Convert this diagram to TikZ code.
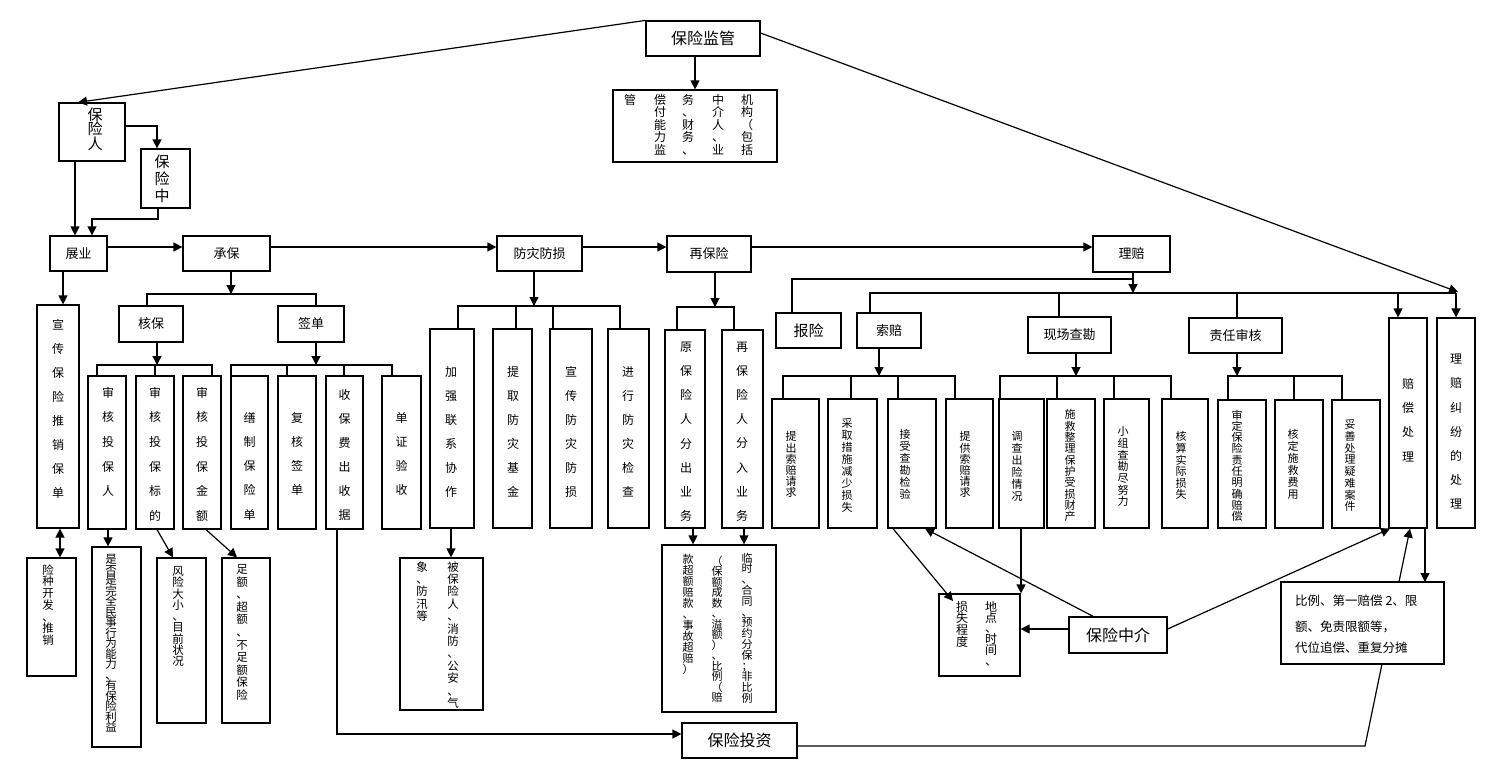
\documentclass[tikz,border=0pt]{standalone}
\usepackage{fontspec}
\setmainfont{Noto Sans CJK SC}
\usetikzlibrary{arrows.meta,calc}
\def\vtl#1{\ifx\relax#1\else\hbox to 1.1em{\hss#1\hss}\expandafter\vtl\fi}
\newcommand\vt[2]{\vbox{\baselineskip=#1\lineskiplimit=-100pt\lineskip=0pt\relax\vtl#2\relax}}
\tikzset{
 bx/.style={draw, fill=white, line width=1.2pt, inner sep=0pt},
 arr/.style={line width=1.2pt, -{Triangle[length=9pt,width=9pt]}},
 arrb/.style={line width=1.2pt, {Triangle[length=9pt,width=9pt]}-{Triangle[length=9pt,width=9pt]}},
 ln/.style={line width=1.2pt},
 txt/.style={inner sep=0pt, anchor=north},
}
\newcommand\bx[5]{\node[bx, minimum width={(#4-#2)*1pt}, minimum height={(#5-#3)*1pt}] (#1) at ({(#2+#4)/2},{(#3+#5)/2}) {};}
\newcommand\bxt[7]{\node[bx, font=\fontsize{#6}{#6}\selectfont, minimum width={(#4-#2)*1pt}, minimum height={(#5-#3)*1pt}] (#1) at ({(#2+#4)/2},{(#3+#5)/2}) {#7};}
\newcommand\vtx[6]{\node[txt, font=\fontsize{#4}{#4}\selectfont] (#1) at (#2,{#3-#4/2}) {\vt{#5pt}{#6}};}
\begin{document}
\begin{tikzpicture}[x=1pt,y=-1pt]
\useasboundingbox (0,0) rectangle (1503,769);
\fill[white] (0,0) rectangle (1503,769);
% boxes
\bxt{jg}{646}{21}{760}{56}{16}{保险监管}
\bx{jgd}{613}{90}{777}{162}
\bx{bxr}{59}{103}{125}{161}
\bx{bxz}{141}{149}{190}{208}
\bxt{zy}{50}{236}{107}{271}{13}{展业}
\bxt{cb}{183}{236}{270}{271}{13}{承保}
\bxt{ff}{497}{236}{582}{271}{13}{防灾防损}
\bxt{zb}{667}{236}{751}{272}{13}{再保险}
\bxt{lp}{1093}{236}{1170}{272}{13}{理赔}
\bx{xc}{37}{305}{79}{528}
\bx{xz}{27}{558}{76}{676}
\bxt{hb}{119}{306}{183}{342}{13}{核保}
\bxt{qd}{278}{306}{344}{342}{13}{签单}
\bx{h1}{88}{376}{126}{529}
\bx{h2}{136}{376}{174}{529}
\bx{h3}{183}{376}{221}{529}
\bx{q1}{231}{376}{268}{529}
\bx{q2}{278}{376}{316}{529}
\bx{q3}{326}{376}{363}{529}
\bx{q4}{382}{376}{421}{529}
\bx{d1}{92}{547}{141}{747}
\bx{d2}{157}{558}{206}{723}
\bx{d3}{222}{558}{270}{723}
\bx{f1}{430}{329}{474}{528}
\bx{f2}{493}{329}{532}{528}
\bx{f3}{550}{329}{592}{528}
\bx{f4}{608}{329}{649}{528}
\bx{fd}{400}{558}{483}{710}
\bx{z1}{665}{330}{705}{528}
\bx{z2}{722}{330}{763}{528}
\bx{zd}{662}{545}{776}{712}
\bxt{bxx}{776}{313}{841}{348}{15}{报险}
\bxt{sp}{857}{313}{921}{348}{13}{索赔}
\bxt{xk}{1028}{317}{1111}{353}{13}{现场查勘}
\bxt{zr}{1189}{318}{1282}{353}{13}{责任审核}
\bx{s1}{772}{399}{819}{528}
\bx{s2}{828}{399}{877}{528}
\bx{s3}{888}{399}{936}{528}
\bx{s4}{946}{399}{993}{528}
\bx{k1}{999}{399}{1044}{528}
\bx{k2}{1047}{399}{1095}{528}
\bx{k3}{1104}{399}{1149}{528}
\bx{k4}{1162}{399}{1208}{528}
\bx{r1}{1218}{400}{1266}{528}
\bx{r2}{1275}{400}{1323}{528}
\bx{r3}{1332}{400}{1380}{528}
\bx{pc}{1389}{318}{1427}{528}
\bx{jf}{1437}{318}{1475}{528}
\bx{dd}{939}{594}{1020}{676}
\bxt{zj}{1069}{617}{1167}{653}{16}{保险中介}
\bxt{tz}{682}{723}{797}{758}{16}{保险投资}
% texts
\vtx{t-jg1}{747}{100}{12}{12.5}{机构（包括}
\vtx{t-jg2}{718}{100}{12}{12.5}{中介人、业}
\vtx{t-jg3}{688}{100}{12}{12.5}{务、财务、}
\vtx{t-jg4}{660}{100}{12}{12.5}{偿付能力监}
\vtx{t-jg5}{630}{100}{12}{12.5}{管}
\vtx{t-bxr}{95}{115}{15}{14.5}{保险人}
\vtx{t-bxz}{162}{162}{15}{17}{保险中}
\vtx{t-xc}{58}{325}{12}{24}{宣传保险推销保单}
\vtx{t-xz}{48}{570}{11.5}{11.7}{险种开发、推销}
\vtx{t-h1}{108}{393}{12}{24.6}{审核投保人}
\vtx{t-h2}{155}{393}{12}{24.6}{审核投保标的}
\vtx{t-h3}{202}{393}{12}{24.6}{审核投保金额}
\vtx{t-q1}{249.5}{418}{12}{24.2}{缮制保险单}
\vtx{t-q2}{297}{418}{12}{24.2}{复核签单}
\vtx{t-q3}{344.5}{395}{12}{24}{收保费出收据}
\vtx{t-q4}{401.5}{418}{12}{24.2}{单证验收}
\vtx{t-d1}{111}{560}{11.5}{10.5}{是否是完全民事行为能力、有保险利益}
\vtx{t-d2}{178}{572}{11.5}{11.25}{风险大小、目前状况}
\vtx{t-d3}{242}{570}{11.5}{12.6}{足额、超额、不足额保险}
\vtx{t-f1}{451}{372}{12}{24}{加强联系协作}
\vtx{t-f2}{513}{372}{12}{24}{提取防灾基金}
\vtx{t-f3}{571}{372}{12}{24}{宣传防灾防损}
\vtx{t-f4}{628}{372}{12}{24}{进行防灾检查}
\vtx{t-fd1}{453}{567}{11.5}{12.4}{被保险人、消防、公安、气}
\vtx{t-fd2}{422}{567}{11.5}{12.4}{象、防汛等}
\vtx{t-z1}{686}{348}{12}{24.1}{原保险人分出业务}
\vtx{t-z2}{742}{348}{12}{24.1}{再保险人分入业务}
\vtx{t-zd1}{747}{558}{11}{10.8}{临时、合同、预约分保；非比例}
\vtx{t-zd2}{717}{561}{11}{10.5}{（保额成数、溢额）、比例（赔}
\vtx{t-zd3}{688}{560}{11}{11}{款超额赔款、事故超赔）}
\vtx{t-s1}{791}{437}{11}{11.2}{提出索赔请求}
\vtx{t-s2}{847}{424}{11}{11.9}{采取措施减少损失}
\vtx{t-s3}{905}{435}{11}{12}{接受查勘检验}
\vtx{t-s4}{965}{437}{11}{11.2}{提供索赔请求}
\vtx{t-k1}{1017}{437}{11}{12}{调查出险情况}
\vtx{t-k2}{1070}{415}{11}{11.3}{施救整理保护受损财产}
\vtx{t-k3}{1123}{432}{11}{11.7}{小组查勘尽努力}
\vtx{t-k4}{1181}{437}{11}{11.6}{核算实际损失}
\vtx{t-r1}{1237}{415}{11}{11.3}{审定保险责任明确赔偿}
\vtx{t-r2}{1293}{435}{11}{12}{核定施救费用}
\vtx{t-r3}{1350}{425}{11}{11.7}{妥善处理疑难案件}
\vtx{t-pc}{1408}{384}{12}{24.3}{赔偿处理}
\vtx{t-jf}{1456}{360}{12}{24.2}{理赔纠纷的处理}
\vtx{t-dd1}{991}{607}{12}{10.8}{地点、时间、}
\vtx{t-dd2}{962}{607}{12}{11.7}{损失程度}
% connectors
\draw[arr] (jg.north west) -- (bxr.north -| 78,0);
\draw[arr] (jg.south -| jgd.north) -- (jgd.north);
\draw[arr] (jg.east |- 0,33) -- (1458,292);
\draw[arr] (bxr.east |- 0,126) -| (bxz.north -| 157,0);
\draw[arr] (bxr.south -| 75,0) -- (zy.north -| 75,0);
\draw[arr] (bxz.south -| 158,0) -- (158,219) -- (92,219) -- (zy.north -| 92,0);
\draw[arr] (zy.east |- 0,247) -- (cb.west |- 0,247);
\draw[arr] (cb.east |- 0,247) -- (ff.west |- 0,247);
\draw[arr] (ff.east |- 0,247) -- (zb.west |- 0,247);
\draw[arr] (zb.east |- 0,247) -- (lp.west |- 0,247);
\draw[arr] (zy.south -| 63,0) -- (xc.north -| 63,0);
\draw[arrb] (xc.south -| 60,0) -- (xz.north -| 60,0);
% chengbao tree
\draw[arr] (cb.south -| 231,0) -- (231,294);
\draw[ln] (hb.north -| 147,0) |- (316,294) -- (qd.north -| 316,0);
\draw[arr] (hb.south -| 157,0) -- (157,365);
\draw[ln] (h1.north -| 97,0) |- (212,365) -- (h3.north -| 212,0);
\draw[ln] (155,365) -- (h2.north -| 155,0);
\draw[arr] (qd.south -| 316,0) -- (316,365);
\draw[ln] (q1.north -| 231,0) |- (392,365) -- (q4.north -| 392,0);
\draw[ln] (287,365) -- (q2.north -| 287,0);
\draw[ln] (344,365) -- (q3.north -| 344,0);
\draw[arr] (h1.south -| 108,0) -- (d1.north -| 108,0);
\draw[arr] (h2.south -| 157,0) -- (d2.north -| 173,0);
\draw[arr] (h3.south -| 206,0) -- (d3.north -| 237,0);
% fangzai tree
\draw[arr] (ff.south -| 534,0) -- (534,306);
\draw[ln] (f1.north -| 458,0) |- (620,306) -- (f4.north -| 620,0);
\draw[ln] (516,306) -- (f2.north -| 516,0);
\draw[ln] (553,306) -- (f3.north -| 553,0);
\draw[arr] (f1.south -| 451,0) -- (fd.north -| 451,0);
% zaibaoxian tree
\draw[arr] (zb.south -| 715,0) -- (715,307);
\draw[ln] (z1.north -| 677,0) |- (734,307) -- (z2.north -| 734,0);
\draw[arr] (z1.south -| 693,0) -- (zd.north -| 693,0);
\draw[arr] (z2.south -| 744,0) -- (zd.north -| 744,0);
% lipei tree
\draw[ln] (bxx.north -| 792,0) |- (1133,279);
\draw[arr] (lp.south -| 1133,0) -- (1133,293);
\draw[ln] (sp.north -| 870,0) |- (1456,293);
\draw[ln] (xk.north -| 1059,0) -- (1059,293);
\draw[ln] (zr.north -| 1237,0) -- (1237,293);
\draw[arr] (1398,293) -- (pc.north -| 1398,0);
\draw[arr] (1456,293) -- (jf.north -| 1456,0);
\draw[arr] (sp.south -| 879,0) -- (879,376);
\draw[ln] (s1.north -| 783,0) |- (955,376) -- (s4.north -| 955,0);
\draw[ln] (851,376) -- (s2.north -| 851,0);
\draw[ln] (898,376) -- (s3.north -| 898,0);
\draw[arr] (xk.south -| 1076,0) -- (1076,376);
\draw[ln] (k1.north -| 1000,0) |- (1171,376) -- (k4.north -| 1171,0);
\draw[ln] (1057,376) -- (k2.north -| 1057,0);
\draw[ln] (1114,376) -- (k3.north -| 1114,0);
\draw[arr] (zr.south -| 1237,0) -- (1237,376);
\draw[ln] (r1.north -| 1228,0) |- (1342,376) -- (r3.north -| 1342,0);
\draw[ln] (1294,376) -- (r2.north -| 1294,0);
% bottom connectors
\draw[arr] (q3.south -| 337,0) |- (tz.west |- 0,734);
\draw[arr] (tz.east |- 0,746) -- (1365,746) -- (pc.south -| 1410,0);
\draw[arr] (zj.west |- 0,629) -- (dd.east |- 0,629);
\draw[arr] ($(zj.north west)!0.5!(zj.north)$) -- (s3.south -| 925,0);
\draw[arr] (s3.south -| 893,0) -- (953,601);
\draw[arr] (k1.south -| 1021,0) -- (dd.north -| 1021,0);
\draw[arr] (zj.east |- 0,629) -- (pc.south -| 1390,0);
\draw[arr] (pc.south -| 1425,0) -- (1425,582);
% proportion box
\bx{bl}{1281}{582}{1444}{664}
\node[anchor=west, inner sep=0pt, font=\fontsize{12.5}{12.5}\selectfont] (bl1) at (1295,601) {比例、第一赔偿 2、限};
\node[anchor=west, inner sep=0pt, font=\fontsize{12.5}{12.5}\selectfont] (bl2) at (1295,627) {额、免责限额等，};
\node[anchor=west, inner sep=0pt, font=\fontsize{12.5}{12.5}\selectfont] (bl3) at (1295,648) {代位追偿、重复分摊};
\end{tikzpicture}
\end{document}
